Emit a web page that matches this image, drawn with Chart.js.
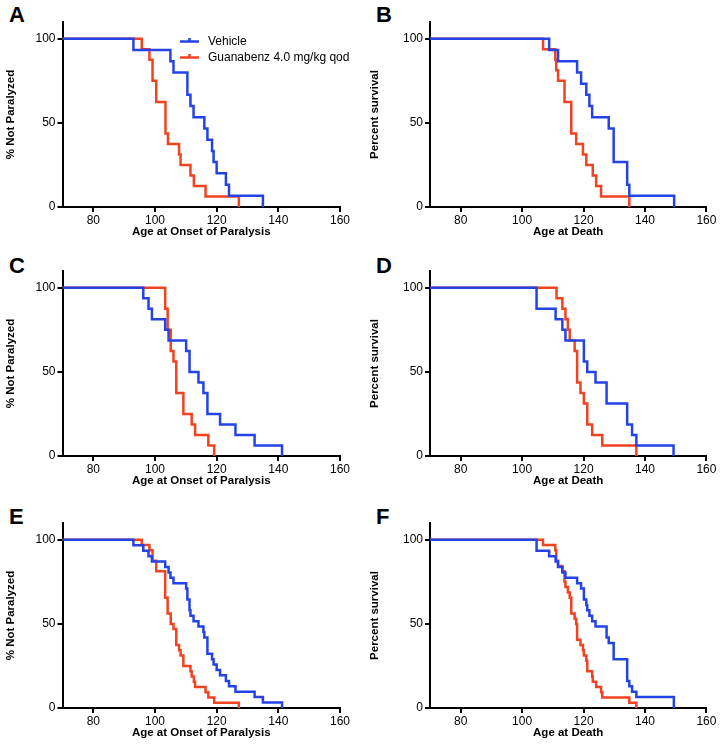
<!DOCTYPE html>
<html lang="en">
<head>
<meta charset="UTF-8">
<title>Guanabenz Kaplan-Meier curves</title>
<script src="https://cdn.jsdelivr.net/npm/chart.js"></script>
<style>
  body { margin: 0; background: #fff; font-family: "Liberation Sans", Arial, sans-serif; }
  #fig { position: relative; width: 720px; height: 755px; overflow: hidden; }
  .panel { position: absolute; }
  .letter { position: absolute; font-weight: bold; font-size: 22px; line-height: 1; color: #000; }
</style>
</head>
<body>
<div id="fig">
  <div class="letter" style="left:9px;top:4px">A</div>
  <div class="letter" style="left:376px;top:4px">B</div>
  <div class="letter" style="left:9px;top:255px">C</div>
  <div class="letter" style="left:376px;top:255px">D</div>
  <div class="letter" style="left:9px;top:506px">E</div>
  <div class="letter" style="left:376px;top:506px">F</div>

  <canvas class="panel" id="chartA" width="356" height="243" style="left:0;top:0"></canvas>
  <canvas class="panel" id="chartB" width="356" height="243" style="left:364px;top:0"></canvas>
  <canvas class="panel" id="chartC" width="356" height="243" style="left:0;top:249px"></canvas>
  <canvas class="panel" id="chartD" width="356" height="243" style="left:364px;top:249px"></canvas>
  <canvas class="panel" id="chartE" width="356" height="243" style="left:0;top:501px"></canvas>
  <canvas class="panel" id="chartF" width="356" height="243" style="left:364px;top:501px"></canvas>
</div>
<script>
// axis ticks
const xTicks = [80, 100, 120, 140, 160];
const yTicks = [0, 50, 100];

// A: onset of paralysis (vehicle n=15, guanabenz n=16)
const ageA_veh = [93, 105, 106, 110.5, 111.5, 112.5, 116, 117, 118.5, 119, 120, 123, 124, 135];
const pctA_veh = [93.3, 86.7, 80, 66.7, 60, 53.3, 46.7, 40, 33.3, 26.7, 20, 13.3, 6.7, 0];
const ageA_gua = [95.7, 98.2, 99.2, 100.4, 103.4, 104.2, 107.8, 108.3, 111.5, 112.6, 116.4, 127.2];
const pctA_gua = [93.75, 87.5, 75, 62.5, 43.75, 37.5, 31.25, 25, 18.75, 12.5, 6.25, 0];

// B: death
const ageB_veh = [108.8, 111.7, 117.9, 119.2, 120.9, 121.9, 122.8, 128.2, 129.8, 134.2, 134.9, 149.5];
const pctB_veh = [93.3, 86.7, 80, 73.3, 66.7, 60, 53.3, 46.7, 26.7, 13.3, 6.7, 0];
const ageB_gua = [106.8, 110.8, 111.1, 111.7, 113.8, 116, 117.6, 119.8, 120.9, 123, 124.1, 125.7, 134.9];
const pctB_gua = [93.75, 87.5, 81.25, 75, 62.5, 43.75, 37.5, 31.25, 25, 18.75, 12.5, 6.25, 0];

// C: onset of paralysis
const ageC_veh = [96.2, 97.9, 99, 103.3, 104.4, 110.1, 111.2, 114.1, 115.7, 117, 121.1, 126.1, 132.3, 141.2];
const pctC_veh = [93.75, 87.5, 81.25, 75, 68.75, 62.5, 50, 43.75, 37.5, 25, 18.75, 12.5, 6.25, 0];
const ageC_gua = [103.3, 104.1, 105.1, 106, 106.9, 109.2, 111.9, 113, 117.3, 119.2];
const pctC_gua = [87.5, 75, 62.5, 56.25, 37.5, 25, 18.75, 12.5, 6.25, 0];

// D: death
const ageD_veh = [104.7, 110.9, 113.1, 114.1, 120.1, 121.2, 123.9, 127.5, 134.2, 135.8, 137.2, 149.3];
const pctD_veh = [87.5, 81.25, 75, 68.75, 56.25, 50, 43.75, 31.25, 18.75, 12.5, 6.25, 0];
const ageD_gua = [111.2, 113.1, 114.1, 114.9, 115.5, 117.1, 117.9, 119, 120.1, 121.2, 122.8, 126.1, 137.2];
const pctD_gua = [93.75, 87.5, 81.25, 75, 68.75, 62.5, 43.75, 37.5, 31.25, 18.75, 12.5, 6.25, 0];

// E: onset of paralysis, pooled
const ageE_veh = [93, 96.2, 97.9, 99, 103.3, 104.4, 105, 106, 110.1, 110.5, 111.2, 111.5, 112.5, 114.1, 115.7, 116, 117, 118.5, 119, 120, 121.1, 123, 124, 126.1, 132.3, 135, 141.2];
const pctE_veh = [96.8, 93.5, 90.3, 87.1, 83.9, 80.6, 77.4, 74.2, 71.0, 64.5, 58.1, 54.8, 51.6, 48.4, 45.2, 41.9, 32.3, 29.0, 25.8, 22.6, 19.4, 16.1, 12.9, 9.7, 6.5, 3.2, 0];
const ageE_gua = [95.7, 98.2, 99.2, 100.4, 103.3, 104.1, 105.1, 106, 106.9, 107.8, 108.3, 109.2, 111.5, 111.9, 112.6, 113, 116.4, 117.3, 119.2, 127.2];
const pctE_gua = [96.9, 93.75, 87.5, 81.25, 65.6, 56.25, 50, 46.9, 37.5, 34.4, 31.25, 25, 21.9, 18.75, 15.6, 12.5, 9.4, 6.25, 3.1, 0];

// F: death, pooled
const ageF_veh = [104.7, 108.8, 110.9, 111.7, 113.1, 114.1, 117.9, 119.2, 120.1, 120.9, 121.2, 121.9, 122.8, 123.9, 127.5, 128.2, 129.8, 134.2, 134.9, 135.8, 137.2, 149.4];
const pctF_veh = [93.5, 90.3, 87.1, 83.9, 80.6, 77.4, 74.2, 71.0, 64.5, 61.3, 58.1, 54.8, 51.6, 48.4, 41.9, 38.7, 29.0, 16.1, 12.9, 9.7, 6.5, 0];
const ageF_gua = [106.8, 110.8, 111.1, 111.7, 113.1, 113.8, 114.1, 114.9, 115.5, 116, 117.1, 117.6, 117.9, 119, 119.8, 120.1, 120.9, 121.2, 122.8, 123, 124.1, 125.7, 126.1, 134.9, 137.2];
const pctF_gua = [96.9, 93.75, 87.5, 84.4, 81.25, 75, 71.9, 68.75, 65.6, 56.25, 53.1, 50, 40.6, 37.5, 34.4, 31.25, 28.1, 21.9, 18.75, 15.6, 12.5, 9.4, 6.25, 3.1, 0];

const BLUE = '#2443e6';
const RED = '#f2421f';
const FONT = '"Liberation Sans", Arial, sans-serif';

// curve starts at 100% from the left edge of the axis
function toPoints(ages, pcts) {
    const pts = [{ x: 70, y: 100 }];
    ages.forEach((a, i) => pts.push({ x: a, y: pcts[i] }));
    return pts;
}

const kmLegend = {
    id: 'kmLegend',
    afterDraw(chart) {
        const ctx = chart.ctx;
        ctx.save();
        ctx.font = '12px ' + FONT;
        ctx.textBaseline = 'middle';
        chart.data.datasets.forEach((ds, i) => {
            const y = 41.5 + i * 16;
            ctx.strokeStyle = ds.borderColor;
            ctx.lineWidth = 2.5;
            ctx.beginPath();
            ctx.moveTo(180, y); ctx.lineTo(199, y);
            ctx.moveTo(189.5, y); ctx.lineTo(189.5, y - 3.5);
            ctx.stroke();
            ctx.fillStyle = '#000';
            ctx.fillText(ds.label, 208, y);
        });
        ctx.restore();
    }
};

function makePanel(id, yTitle, xTitle, veh, gua, yw, padRight, withLegend) {
    const axisGrid = { drawOnChartArea: false, drawTicks: true, tickLength: 5, color: '#000', lineWidth: 2 };
    const axisBorder = { display: true, color: '#000', width: 2 };
    new Chart(document.getElementById(id), {
        type: 'line',
        data: {
            datasets: [
                { label: 'Vehicle', data: toPoints(veh[0], veh[1]), borderColor: BLUE },
                { label: 'Guanabenz 4.0 mg/kg qod', data: toPoints(gua[0], gua[1]), borderColor: RED }
            ]
        },
        options: {
            responsive: false,
            animation: false,
            layout: { padding: { top: 22, right: padRight, left: 0, bottom: 0 } },
            plugins: { legend: { display: false }, tooltip: { enabled: false } },
            elements: {
                point: { radius: 0 },
                line: { borderWidth: 2.5, stepped: 'before', tension: 0, fill: false }
            },
            scales: {
                x: {
                    type: 'linear', min: 70, max: 160,
                    afterBuildTicks: s => { s.ticks = xTicks.map(v => ({ value: v })); },
                    afterFit: s => { s.height = 36; },
                    grid: axisGrid, border: axisBorder,
                    ticks: { color: '#000', padding: 1, font: { family: FONT, size: 12 } },
                    title: { display: true, text: xTitle, color: '#000', font: { family: FONT, size: 11.5, weight: 'bold' } }
                },
                y: {
                    type: 'linear', min: 0, max: 110,
                    afterBuildTicks: s => { s.ticks = yTicks.map(v => ({ value: v })); },
                    afterFit: s => { s.width = yw; },
                    grid: axisGrid, border: axisBorder,
                    ticks: { color: '#000', padding: 2, font: { family: FONT, size: 12 } },
                    title: { display: true, text: yTitle, color: '#000', font: { family: FONT, size: 11.5, weight: 'bold' } }
                }
            }
        },
        plugins: withLegend ? [kmLegend] : []
    });
}

const onsetY = '% Not Paralyzed', onsetX = 'Age at Onset of Paralysis';
const deathY = 'Percent survival', deathX = 'Age at Death';

makePanel('chartA', onsetY, onsetX, [ageA_veh, pctA_veh], [ageA_gua, pctA_gua], 62.5, 16, true);
makePanel('chartB', deathY, deathX, [ageB_veh, pctB_veh], [ageB_gua, pctB_gua], 66, 13.6, false);
makePanel('chartC', onsetY, onsetX, [ageC_veh, pctC_veh], [ageC_gua, pctC_gua], 62.5, 16, false);
makePanel('chartD', deathY, deathX, [ageD_veh, pctD_veh], [ageD_gua, pctD_gua], 66, 13.6, false);
makePanel('chartE', onsetY, onsetX, [ageE_veh, pctE_veh], [ageE_gua, pctE_gua], 62.5, 16, false);
makePanel('chartF', deathY, deathX, [ageF_veh, pctF_veh], [ageF_gua, pctF_gua], 66, 13.6, false);
</script>
</body>
</html>
